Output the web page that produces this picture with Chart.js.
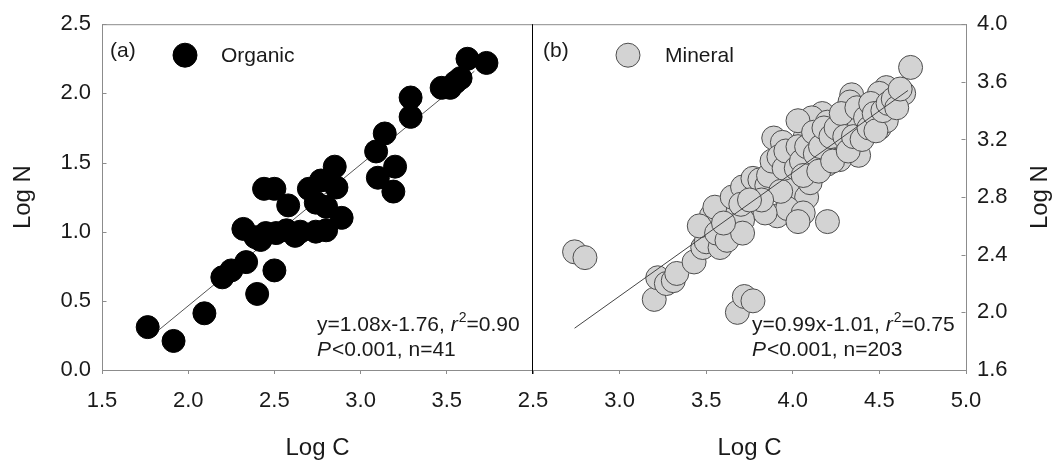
<!DOCTYPE html>
<html>
<head>
<meta charset="utf-8">
<script src="https://cdn.jsdelivr.net/npm/chart.js@4.4.1/dist/chart.umd.min.js"></script>
<style>
html, body { margin: 0; padding: 0; background: #fff; }
#wrap { position: relative; width: 1060px; height: 460px; }
#wrap canvas { position: absolute; left: 0; top: 0; }
</style>
</head>
<body>
<div id="wrap">
<canvas id="organicChart" width="1060" height="460"></canvas>
<canvas id="mineralChart" width="1060" height="460"></canvas>
</div>
<script>
// Organic soils (panel a)
const organicC = [1.765, 1.915, 2.094, 2.198, 2.25, 2.336, 2.40, 2.50, 2.32, 2.39,
    2.45, 2.51, 2.44, 2.50, 2.58, 2.57, 2.65, 2.70, 2.74, 2.74,
    2.77, 2.85, 2.86, 2.80, 2.89, 2.80, 3.09, 3.14, 3.10, 3.20,
    3.19, 3.29, 3.29, 3.47, 3.52, 3.58, 3.62, 3.73, 2.42, 2.62, 3.55];
const organicN = [0.31, 0.21, 0.41, 0.67, 0.72, 0.78, 0.55, 0.72, 1.02, 0.96,
    0.99, 0.99, 1.31, 1.31, 1.19, 1.01, 1.00, 1.31, 1.21, 1.00,
    1.37, 1.47, 1.32, 1.18, 1.10, 1.01, 1.58, 1.71, 1.39, 1.47,
    1.29, 1.83, 1.97, 2.04, 2.04, 2.11, 2.25, 2.22, 0.94, 0.97, 2.08];
const organicFitC = [1.83, 3.66];
const organicFitN = [0.29, 2.16];

// Mineral soils (panel b)
const mineralC = [2.74, 2.80, 3.20, 3.22, 3.27, 3.31, 3.33, 3.43, 3.48, 3.50,
    3.53, 3.58, 3.63, 3.68, 3.65, 3.74, 3.77, 3.79, 3.68, 3.72,
    3.77, 3.55, 3.65, 3.71, 3.77, 3.46, 3.56, 3.62, 4.68, 4.64,
    4.54, 4.50, 4.34, 4.33, 4.50, 4.54, 4.43, 4.35, 4.30, 4.17,
    4.11, 4.20, 4.15, 4.07, 4.26, 4.38, 4.27, 4.20, 3.89, 3.94,
    4.00, 4.08, 3.98, 3.89, 3.81, 3.91, 3.97, 4.08, 4.10, 3.91,
    3.97, 4.06, 4.03, 4.20, 3.84, 3.71, 3.71, 4.03, 3.60, 3.70,
    3.85, 3.86, 3.88, 3.92, 3.93, 3.95, 3.96, 4.02, 4.03, 4.05,
    4.06, 4.08, 4.12, 4.13, 4.15, 4.16, 4.18, 4.22, 4.23, 4.25,
    4.28, 4.30, 4.32, 4.35, 4.37, 4.40, 4.42, 4.44, 4.45, 4.47,
    4.48, 4.52, 4.55, 4.58, 4.60, 4.62, 3.82, 3.75];
const mineralN = [2.42, 2.38, 2.09, 2.24, 2.20, 2.22, 2.27, 2.35, 2.45, 2.49,
    2.67, 2.45, 2.52, 2.62, 2.73, 2.73, 2.80, 2.90, 2.00, 2.11,
    2.08, 2.73, 2.80, 2.87, 2.93, 2.60, 2.55, 2.50, 3.70, 3.52,
    3.56, 3.52, 3.51, 3.46, 3.28, 3.33, 3.40, 3.35, 3.31, 3.38,
    3.35, 3.32, 3.21, 3.21, 3.19, 3.09, 3.06, 3.03, 3.21, 3.18,
    3.12, 3.08, 2.97, 2.96, 2.92, 2.90, 2.85, 2.80, 2.90, 2.67,
    2.72, 2.69, 2.63, 2.63, 2.69, 2.64, 2.55, 3.33, 2.62, 2.75,
    2.88, 2.95, 3.05, 3.08, 2.84, 3.00, 3.12, 3.00, 3.15, 3.05,
    2.95, 3.15, 3.25, 3.10, 2.98, 3.15, 3.28, 3.22, 3.05, 3.28,
    3.38, 3.22, 3.12, 3.22, 3.42, 3.20, 3.35, 3.28, 3.45, 3.38,
    3.26, 3.40, 3.45, 3.48, 3.42, 3.55, 2.78, 2.78];
const mineralFitC = [2.74, 4.665];
const mineralFitN = [1.89, 3.54];

const FONT = 'Arial, "Liberation Sans", Helvetica, sans-serif';
const TEXT = '#1a1a1a';
const AXIS = '#8c8c8c';

Chart.defaults.font.family = FONT;
Chart.defaults.color = TEXT;

const toPoints = (xs, ys) => xs.map((x, i) => ({ x: x, y: ys[i] }));

function drawRuns(ctx, x, y, runs) {
    runs.forEach(r => {
        ctx.font = (r.it ? 'italic ' : '') + (r.sup ? 14 : 21) + 'px ' + FONT;
        ctx.fillText(r.t, x, r.sup ? y - 9 : y);
        x += ctx.measureText(r.t).width + (r.it ? 1 : 0);
    });
}

const panelDeco = {
    id: 'panelDeco',
    afterDraw(chart, args, o) {
        const ctx = chart.ctx;
        const a = chart.chartArea;
        const ys = chart.scales.y;
        ctx.save();

        // top frame and inward y ticks
        ctx.strokeStyle = AXIS;
        ctx.lineWidth = 1;
        ctx.beginPath();
        ctx.moveTo(a.left, a.top + 0.5);
        ctx.lineTo(a.right, a.top + 0.5);
        const edge = o.rightAxis ? a.right - 0.5 : a.left + 0.5;
        const dir = o.rightAxis ? -1 : 1;
        ys.ticks.forEach(t => {
            const py = Math.round(ys.getPixelForValue(t.value)) + 0.5;
            ctx.moveTo(edge, py);
            ctx.lineTo(edge + dir * 4, py);
        });
        ctx.stroke();

        if (o.divider) {
            ctx.strokeStyle = '#000';
            ctx.beginPath();
            ctx.moveTo(a.right - 0.5, a.top);
            ctx.lineTo(a.right - 0.5, a.bottom + 4);
            ctx.stroke();
        }

        // panel tag and legend
        ctx.fillStyle = TEXT;
        ctx.textBaseline = 'middle';
        ctx.font = '21px ' + FONT;
        ctx.fillText(o.tag, a.left + o.tagX, a.top + 27);
        ctx.beginPath();
        ctx.arc(a.left + o.markX, a.top + 31, 12, 0, Math.PI * 2);
        ctx.fillStyle = o.markFill;
        ctx.fill();
        ctx.strokeStyle = o.markStroke;
        ctx.stroke();
        ctx.fillStyle = TEXT;
        ctx.fillText(o.name, a.left + o.nameX, a.top + 32);

        // regression statistics
        ctx.textBaseline = 'alphabetic';
        drawRuns(ctx, a.left + o.eqX, a.top + 307, [
            { t: 'y=' + o.eq + ', ' }, { t: 'r', it: true }, { t: '2', sup: true }, { t: '=' + o.r2 }
        ]);
        drawRuns(ctx, a.left + o.eqX, a.top + 332, [
            { t: 'P', it: true }, { t: '<0.001, n=' + o.n }
        ]);

        // right-hand axis title, reading bottom to top
        if (o.rightTitle) {
            ctx.translate(1040, (a.top + a.bottom) / 2);
            ctx.rotate(-Math.PI / 2);
            ctx.textAlign = 'center';
            ctx.textBaseline = 'middle';
            ctx.font = '24px ' + FONT;
            ctx.fillText(o.rightTitle, 0, 0);
        }
        ctx.restore();
    }
};

function xScale(min, max, hideLast) {
    return {
        type: 'linear',
        min: min,
        max: max,
        afterBuildTicks: s => { if (hideLast) s.ticks = s.ticks.filter(t => t.value < max - 0.25); },
        afterFit: s => { s.height = 90; },
        ticks: { stepSize: 0.5, padding: 14, font: { size: 22 }, color: TEXT, maxRotation: 0, autoSkip: false,
            callback: v => Number(v).toFixed(1) },
        grid: { drawOnChartArea: false, tickLength: 4, color: AXIS },
        border: { color: AXIS },
        title: { display: true, text: 'Log C', font: { size: 24 }, color: TEXT, padding: { top: 0, bottom: -3 } }
    };
}

function yScale(min, max, step, pos, width, withTitle) {
    return {
        type: 'linear',
        position: pos,
        min: min,
        max: max,
        afterFit: s => { s.width = width; },
        ticks: { stepSize: step, padding: 11, font: { size: 22 }, color: TEXT, autoSkip: false,
            callback: v => Number(v).toFixed(1) },
        grid: { drawOnChartArea: false, drawTicks: false },
        border: { color: AXIS },
        title: { display: withTitle, text: 'Log N', font: { size: 24 }, color: TEXT, padding: { top: 9, bottom: 0 } }
    };
}

new Chart(document.getElementById('organicChart'), {
    type: 'scatter',
    data: {
        datasets: [{
            label: 'Organic',
            data: toPoints(organicC, organicN),
            backgroundColor: '#000',
            borderColor: '#000',
            borderWidth: 1,
            pointRadius: 11.5
        }, {
            label: 'fit',
            data: toPoints(organicFitC, organicFitN),
            showLine: true,
            borderColor: '#555',
            borderWidth: 1,
            pointRadius: 0
        }]
    },
    options: {
        responsive: false,
        animation: false,
        layout: { padding: { left: 0, top: 24, right: 527, bottom: 0 } },
        scales: {
            x: xScale(1.5, 4.0, true),
            y: yScale(0, 2.5, 0.5, 'left', 102, true)
        },
        plugins: {
            legend: { display: false },
            tooltip: { enabled: false },
            panelDeco: {
                divider: true, tag: '(a)', tagX: 8, markX: 83, nameX: 119, name: 'Organic',
                markFill: '#000', markStroke: '#000',
                eqX: 215, eq: '1.08x-1.76', r2: '0.90', n: '41'
            }
        }
    },
    plugins: [panelDeco]
});

new Chart(document.getElementById('mineralChart'), {
    type: 'scatter',
    data: {
        datasets: [{
            label: 'fit',
            data: toPoints(mineralFitC, mineralFitN),
            showLine: true,
            borderColor: '#444',
            borderWidth: 1,
            pointRadius: 0
        }, {
            label: 'Mineral',
            data: toPoints(mineralC, mineralN),
            backgroundColor: '#d3d3d3',
            borderColor: '#4d4d4d',
            borderWidth: 1,
            pointRadius: 12
        }]
    },
    options: {
        responsive: false,
        animation: false,
        layout: { padding: { left: 533, top: 24, right: 0, bottom: 0 } },
        scales: {
            x: xScale(2.5, 5.0, false),
            y: yScale(1.6, 4.0, 0.4, 'right', 94, false)
        },
        plugins: {
            legend: { display: false },
            tooltip: { enabled: false },
            panelDeco: {
                rightAxis: true, tag: '(b)', tagX: 10, markX: 95, nameX: 132, name: 'Mineral',
                markFill: '#d3d3d3', markStroke: '#4d4d4d',
                eqX: 219, eq: '0.99x-1.01', r2: '0.75', n: '203', rightTitle: 'Log N'
            }
        }
    },
    plugins: [panelDeco]
});
</script>
</body>
</html>
